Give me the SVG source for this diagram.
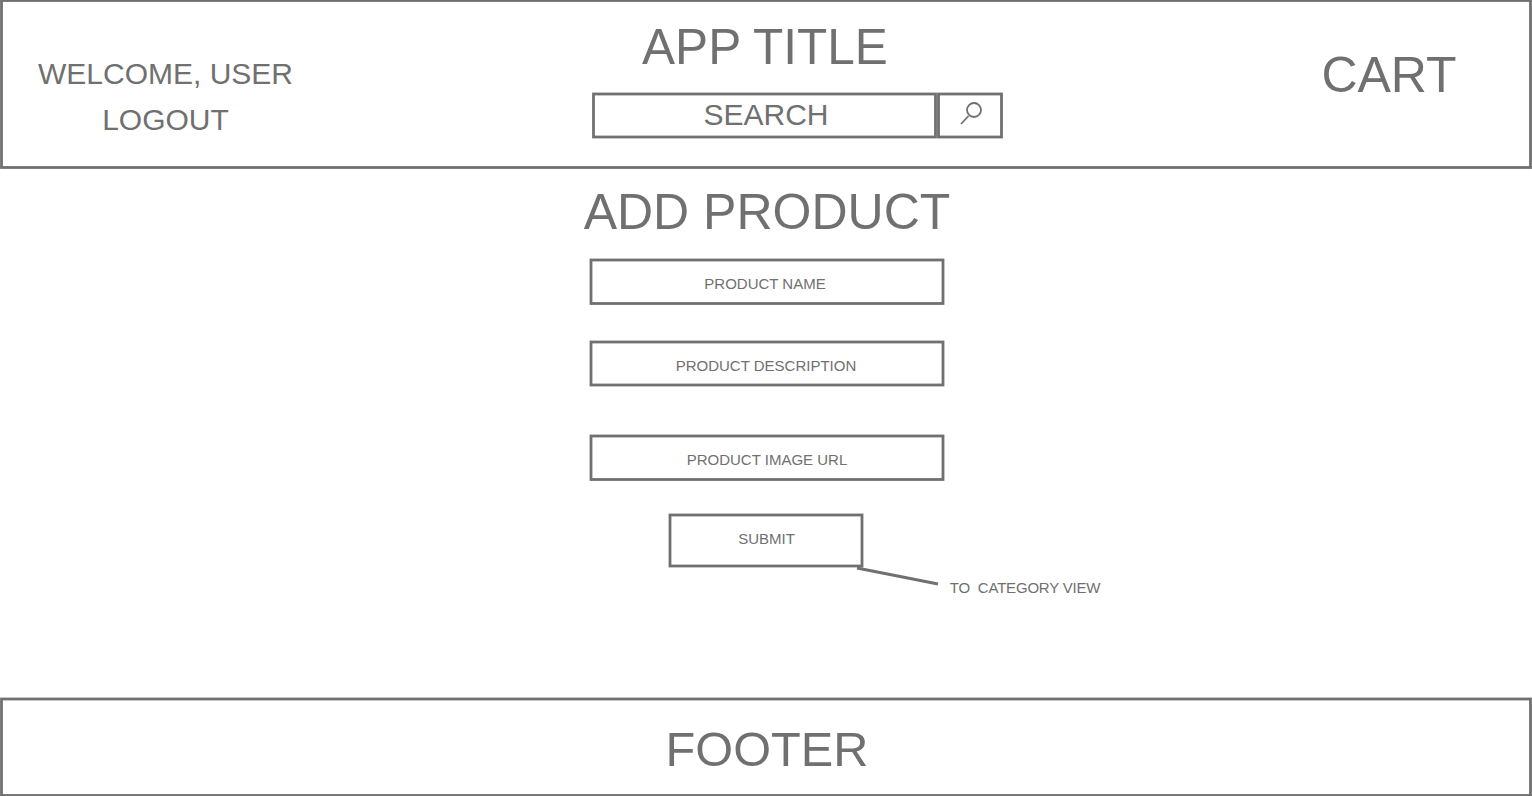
<svg xmlns="http://www.w3.org/2000/svg" width="1532" height="796" viewBox="0 0 1532 796">
<style>
.b{fill:#fff;stroke:#707070;stroke-width:2.800}
.l{fill:none;stroke:#707070;stroke-width:3}
.i{fill:none;stroke:#707070;stroke-width:1.800}
text{font-family:"Liberation Sans",Arial,sans-serif;fill:#707070;text-anchor:middle}
.s{font-size:15px}.m{font-size:30px}.h{font-size:50px}
</style>
<rect width="1532" height="796" fill="#fff"/>
<g id="header"><rect class="b" x="1.500" y="0.500" width="1529" height="167"/></g>
<g id="welcome"><text class="m" x="165.500" y="84">WELCOME, USER</text></g>
<g id="logout"><text class="m" x="165.500" y="130">LOGOUT</text></g>
<g id="title"><text class="h" x="765" y="64" style="font-size:49.500px">APP TITLE</text></g>
<g id="cart"><text class="h" x="1389" y="91.500">CART</text></g>
<g id="search"><rect class="b" x="593.500" y="94" width="342" height="43"/><text class="m" x="766" y="125">SEARCH</text></g>
<g id="search-button"><rect class="b" x="938.500" y="94" width="63" height="43"/><circle class="i" cx="974" cy="110" r="7"/><path class="i" d="M968.500 116L961 124"/></g>
<g id="add-product"><text class="h" x="767" y="229">ADD PRODUCT</text></g>
<g id="name"><rect class="b" x="591" y="260" width="352" height="43.500"/><text class="s" x="765" y="288.500">PRODUCT NAME</text></g>
<g id="description"><rect class="b" x="591" y="342" width="352" height="43"/><text class="s" x="766" y="370.500">PRODUCT DESCRIPTION</text></g>
<g id="image-url"><rect class="b" x="591" y="436" width="352" height="43.500"/><text class="s" x="767" y="464.500">PRODUCT IMAGE URL</text></g>
<g id="submit"><rect class="b" x="670" y="515" width="192" height="51"/><text class="s" x="766.500" y="543.500">SUBMIT</text></g>
<g id="connectors"><path class="l" d="M857 568L938 584"/></g>
<g id="to-category"><text class="s" x="1025" y="592.500" xml:space="preserve" style="letter-spacing:-.2px">TO  CATEGORY VIEW</text></g>
<g id="footer"><rect class="b" x="1.500" y="699" width="1529" height="96.500"/><text class="h" x="767" y="766" style="font-size:48.700px">FOOTER</text></g>
</svg>
